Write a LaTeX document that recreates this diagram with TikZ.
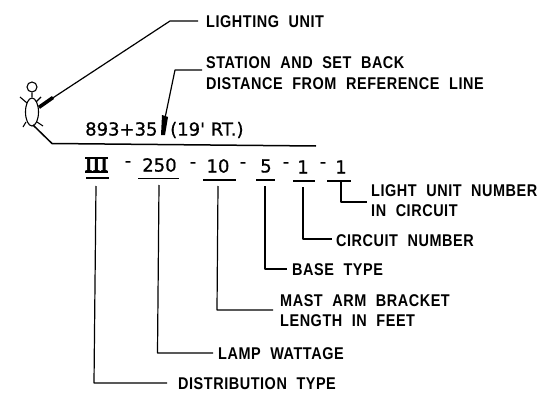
\documentclass[tikz,border=0pt]{standalone}
\usepackage{fontspec}
\usetikzlibrary{shapes.geometric}
\setmainfont{Liberation Sans}[FakeStretch=0.85,LetterSpace=3.2,WordSpace=2.1]
\newfontfamily\codefont{DejaVu Sans}[FakeBold=0.8]
\newfontfamily\romanfont{Liberation Serif}
\begin{document}
\begin{tikzpicture}[x=1pt,y=-1pt,
  lab/.style={inner sep=0pt,anchor=west,font=\fontsize{17}{18}\selectfont\bfseries},
  code/.style={inner sep=0pt,font=\codefont\fontsize{18}{20}\selectfont},
  lead/.style={line width=1.2pt,line join=round},
  rule/.style={line width=1.6pt},
  fig/.style={line width=1.1pt}]
\useasboundingbox (0,0) rectangle (541,404);
% labels
\node[lab] (lu) at (206,22) {LIGHTING UNIT};
\node[lab] (st) at (206,63) {STATION AND SET BACK};
\node[lab] (di) at (206,84) {DISTANCE FROM REFERENCE LINE};
\node[lab] (ln) at (371,191) {LIGHT UNIT NUMBER};
\node[lab] (ic) at (371,211) {IN CIRCUIT};
\node[lab] (cn) at (336,241) {CIRCUIT NUMBER};
\node[lab] (bt) at (292,270) {BASE TYPE};
\node[lab] (ma) at (280,301) {MAST ARM BRACKET};
\node[lab] (lf) at (280,321) {LENGTH IN FEET};
\node[lab] (lw) at (218,354) {LAMP WATTAGE};
\node[lab] (dt) at (178,384) {DISTRIBUTION TYPE};
% code
\node[code,anchor=west] (st1) at (85,129) {893+35};
\node[code,anchor=west] (st2) at (170,130) {(19' RT.)};
\node[code] (c1) at (96.5,165) {\romanfont\fontsize{20}{20}\selectfont\bfseries III};
\node[code] (d1) at (128,164) {-};
\node[code] (c2) at (159.5,165) {250};
\node[code] (d2) at (193,165) {-};
\node[code] (c3) at (218,166) {10};
\node[code] (d3) at (243,165) {-};
\node[code] (c4) at (266,166) {5};
\node[code] (d4) at (286,165) {-};
\node[code] (c5) at (303,167) {1};
\node[code] (d5) at (323,165) {-};
\node[code] (c6) at (341,167) {1};
% III bars
\draw[line width=1.2pt] (85,158) -- (108,158) (85,172) -- (108,172);
% underlines
\coordinate (u1) at (96,186); \coordinate (u2) at (159,185); \coordinate (u3) at (218,186);
\coordinate (u4) at (265,186); \coordinate (u5) at (303,187); \coordinate (u6) at (341,182);
\draw[rule] (86,178) -- (109,178) (138,178.5) -- (179,178.5) (203,180) -- (236,180)
  (256,180) -- (275,180) (293,181) -- (315,181) (327,181) -- (351,181);
% connectors
\draw[lead] (u1) -- (94,383) -- (167,383);
\draw[lead] (u2) -- (157.5,353) -- (213,353);
\draw[lead] (u3) -- (217,310) -- (273,310);
\draw[lead] (u4) |- (287,269);
\draw[lead] (u5) |- (332,239);
\draw[lead] (u6) |- (367,202);
% figure
\coordinate (fb) at (33,125);
\node[circle,draw,fig,minimum size=10pt,inner sep=0pt] (head) at (32,87) {};
\node[ellipse,draw,fig,minimum width=13pt,minimum height=28pt,inner sep=0pt] (body) at (32,112) {};
\draw[fig] (head) -- (body.north)
  (27,103) -- (20,97) (36,102) -- (41,97)
  (26,122) -- (23,127) (37,122) -- (43,126);
% reference line
\draw[line width=1.5pt,line join=round] (fb) -- (52,143.5) -- (316,146);
% lighting unit leader
\coordinate (lt) at (39,107);
\draw[lead] (lt) -- (170,21) -- (198,21);
\draw[line width=3.6pt] (39,107.3) -- (53,97.5);
% station leader
\draw[lead] (202,70) -- (175,70) -- (165,118);
\fill (162,115) -- (168,117) -- (165,135) -- (161,135) -- cycle;
\end{tikzpicture}
\end{document}
